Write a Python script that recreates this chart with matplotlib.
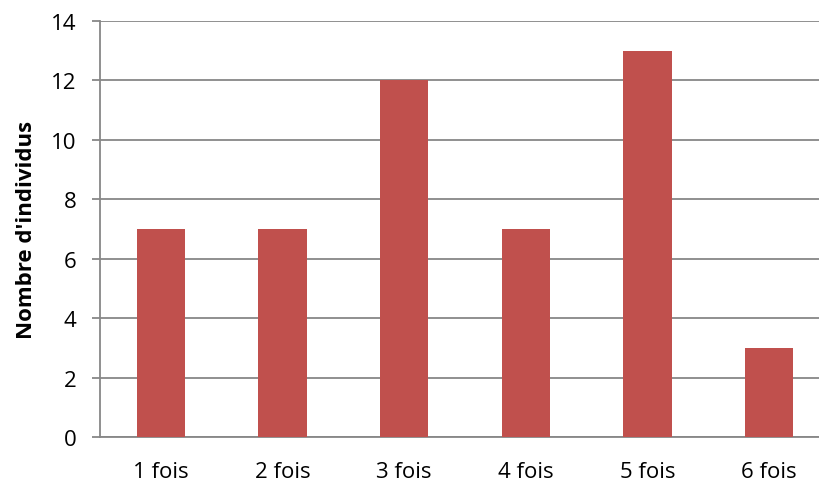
import matplotlib.pyplot as plt
import numpy as np

plt.rcParams['font.family'] = ['Open Sans', 'DejaVu Sans']

categories = ['1 fois', '2 fois', '3 fois', '4 fois', '5 fois', '6 fois']
counts = [7, 7, 12, 7, 13, 3]
yticks = [0, 2, 4, 6, 8, 10, 12, 14]

fig = plt.figure(figsize=(8.19, 4.85), dpi=100)
# plot area runs past the right edge, as in the cropped original
ax = fig.add_axes([100 / 819, 1 - 438 / 485, 730 / 819, 416 / 485])

x = np.arange(len(categories))
ax.bar(x, counts, width=0.395, color='#C0504D', zorder=3)

ax.set_xlim(-0.5, len(categories) - 0.5)
ax.set_ylim(0, 14)
ax.set_yticks(yticks)
ax.set_xticks(x)
ax.set_xticklabels(categories)

grid_c = '#878787'
ax.yaxis.grid(True, color=grid_c, linewidth=1.3, zorder=0)
for s in ['top', 'right']:
    ax.spines[s].set_visible(False)
ax.spines['left'].set_color(grid_c)
ax.spines['bottom'].set_color(grid_c)
ax.spines['left'].set_linewidth(1.3)
ax.spines['bottom'].set_linewidth(1.3)
ax.tick_params(axis='y', length=6, width=1.3, color=grid_c, labelsize=16, pad=11)
ax.tick_params(axis='x', length=0, labelsize=16, pad=17)

ax.set_ylabel("Nombre d'individus", fontsize=16, fontweight='bold', labelpad=10)

fig.savefig('out.png', dpi=100)
